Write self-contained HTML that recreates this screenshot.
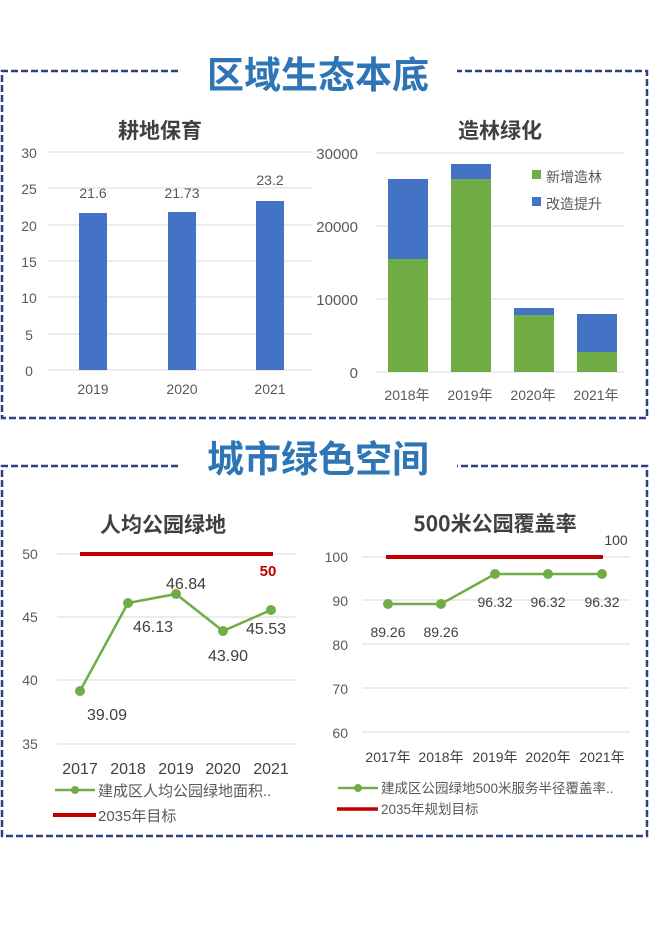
<!DOCTYPE html>
<html><head><meta charset="utf-8"><style>
html,body{margin:0;padding:0;background:#fff;}
svg{display:block;font-family:"Liberation Sans","Noto Sans CJK SC",sans-serif;}
</style></head><body>
<svg width="663" height="926" viewBox="0 0 663 926" xmlns="http://www.w3.org/2000/svg">
<g fill="none" stroke="#2F3F7F" stroke-width="2.5" stroke-dasharray="7,3">
<path d="M178,71 H2 V418 H647 V71 H457"/>
<path d="M178,466 H2 V836 H647 V466 H457"/>
</g>
<g font-weight="bold" fill="#2E75B6" font-size="37" text-anchor="middle" font-family="'Noto Sans CJK SC',sans-serif">
<text x="318" y="88">区域生态本底</text>
<text x="318" y="472">城市绿色空间</text>
</g>
<g font-weight="bold" fill="#404040" font-size="21" text-anchor="middle" font-family="'Noto Sans CJK SC',sans-serif">
<text x="160" y="138">耕地保育</text>
<text x="500" y="138">造林绿化</text>
<text x="163" y="532">人均公园绿地</text>
<text x="495" y="531">500米公园覆盖率</text>
</g>
<g stroke="#D9D9D9" stroke-width="1">
<line x1="48" x2="312" y1="152" y2="152"/><line x1="48" x2="312" y1="188" y2="188"/><line x1="48" x2="312" y1="225" y2="225"/><line x1="48" x2="312" y1="261" y2="261"/><line x1="48" x2="312" y1="297" y2="297"/><line x1="48" x2="312" y1="334" y2="334"/><line x1="48" x2="312" y1="370" y2="370"/>
<line x1="376" x2="624" y1="153" y2="153"/><line x1="376" x2="624" y1="226" y2="226"/><line x1="376" x2="624" y1="299" y2="299"/><line x1="376" x2="624" y1="372" y2="372"/>
<line x1="57" x2="296" y1="554" y2="554"/><line x1="57" x2="296" y1="617" y2="617"/><line x1="57" x2="296" y1="680" y2="680"/><line x1="57" x2="296" y1="744" y2="744"/>
<line x1="362" x2="630" y1="557" y2="557"/><line x1="362" x2="630" y1="600" y2="600"/><line x1="362" x2="630" y1="644" y2="644"/><line x1="362" x2="630" y1="688" y2="688"/><line x1="362" x2="630" y1="732" y2="732"/>
</g>
<g fill="#595959" font-size="14">
<g text-anchor="middle">
<text x="29" y="158">30</text><text x="29" y="194">25</text><text x="29" y="231">20</text><text x="29" y="267">15</text><text x="29" y="303">10</text><text x="29" y="340">5</text><text x="29" y="376">0</text>
<text x="93" y="394">2019</text><text x="182" y="394">2020</text><text x="270" y="394">2021</text>
<text x="93" y="198">21.6</text><text x="182" y="198">21.73</text><text x="270" y="185">23.2</text>
</g>
<g text-anchor="end" font-size="15">
<text x="358" y="159">30000</text><text x="358" y="232">20000</text><text x="358" y="305">10000</text><text x="358" y="378">0</text>
</g>
<g text-anchor="middle">
<text x="407" y="400">2018年</text><text x="470" y="400">2019年</text><text x="533" y="400">2020年</text><text x="596" y="400">2021年</text>
</g>
<text x="546" y="182">新增造林</text><text x="546" y="209">改造提升</text>
</g>
<g fill="#4472C4">
<rect x="79" y="213" width="28" height="157"/><rect x="168" y="212" width="28" height="158"/><rect x="256" y="201" width="28" height="169"/>
<rect x="388" y="179" width="40" height="80"/><rect x="451" y="164" width="40" height="15"/><rect x="514" y="308" width="40" height="7"/><rect x="577" y="314" width="40" height="38"/>
<rect x="532" y="197" width="9" height="9"/>
</g>
<g fill="#70AD47">
<rect x="388" y="259" width="40" height="113"/><rect x="451" y="179" width="40" height="193"/><rect x="514" y="315" width="40" height="57"/><rect x="577" y="352" width="40" height="20"/>
<rect x="532" y="170" width="9" height="9"/>
</g>
<line x1="80" x2="273" y1="554" y2="554" stroke="#C00000" stroke-width="4"/>
<polyline points="80,691 128,603 176,594 223,631 271,610" fill="none" stroke="#70AD47" stroke-width="2.5"/>
<g fill="#70AD47"><circle cx="80" cy="691" r="5"/><circle cx="128" cy="603" r="5"/><circle cx="176" cy="594" r="5"/><circle cx="223" cy="631" r="5"/><circle cx="271" cy="610" r="5"/></g>
<text x="268" y="576" fill="#C00000" font-weight="bold" font-size="15" text-anchor="middle">50</text>
<g fill="#404040" font-size="16" text-anchor="middle">
<text x="107" y="720">39.09</text><text x="153" y="632">46.13</text><text x="186" y="589">46.84</text><text x="228" y="661">43.90</text><text x="266" y="634">45.53</text>
<text x="80" y="774">2017</text><text x="128" y="774">2018</text><text x="176" y="774">2019</text><text x="223" y="774">2020</text><text x="271" y="774">2021</text>
</g>
<g fill="#595959" font-size="14" text-anchor="middle">
<text x="30" y="559">50</text><text x="30" y="622">45</text><text x="30" y="685">40</text><text x="30" y="749">35</text>
</g>
<line x1="55" x2="95" y1="790" y2="790" stroke="#70AD47" stroke-width="2.5"/><circle cx="75" cy="790" r="4" fill="#70AD47"/>
<text x="98" y="796" fill="#595959" font-size="15">建成区人均公园绿地面积..</text>
<line x1="53" x2="96" y1="815" y2="815" stroke="#C00000" stroke-width="4"/>
<text x="98" y="821" fill="#595959" font-size="15">2035年目标</text>
<line x1="386" x2="603" y1="557" y2="557" stroke="#C00000" stroke-width="4"/>
<polyline points="388,604 441,604 495,574 548,574 602,574" fill="none" stroke="#70AD47" stroke-width="2.5"/>
<g fill="#70AD47"><circle cx="388" cy="604" r="5"/><circle cx="441" cy="604" r="5"/><circle cx="495" cy="574" r="5"/><circle cx="548" cy="574" r="5"/><circle cx="602" cy="574" r="5"/></g>
<g fill="#404040" font-size="14" text-anchor="middle">
<text x="388" y="637">89.26</text><text x="441" y="637">89.26</text><text x="495" y="607">96.32</text><text x="548" y="607">96.32</text><text x="602" y="607">96.32</text>
<text x="616" y="545">100</text>
<text x="388" y="762">2017年</text><text x="441" y="762">2018年</text><text x="495" y="762">2019年</text><text x="548" y="762">2020年</text><text x="602" y="762">2021年</text>
</g>
<g fill="#595959" font-size="14" text-anchor="end">
<text x="348" y="562">100</text><text x="348" y="606">90</text><text x="348" y="650">80</text><text x="348" y="694">70</text><text x="348" y="738">60</text>
</g>
<line x1="338" x2="378" y1="788" y2="788" stroke="#70AD47" stroke-width="2.5"/><circle cx="358" cy="788" r="4" fill="#70AD47"/>
<text x="381" y="793" fill="#595959" font-size="13.5">建成区公园绿地500米服务半径覆盖率..</text>
<line x1="337" x2="378" y1="809" y2="809" stroke="#C00000" stroke-width="3.5"/>
<text x="381" y="814" fill="#595959" font-size="13.5">2035年规划目标</text>
</svg>
</body></html>
